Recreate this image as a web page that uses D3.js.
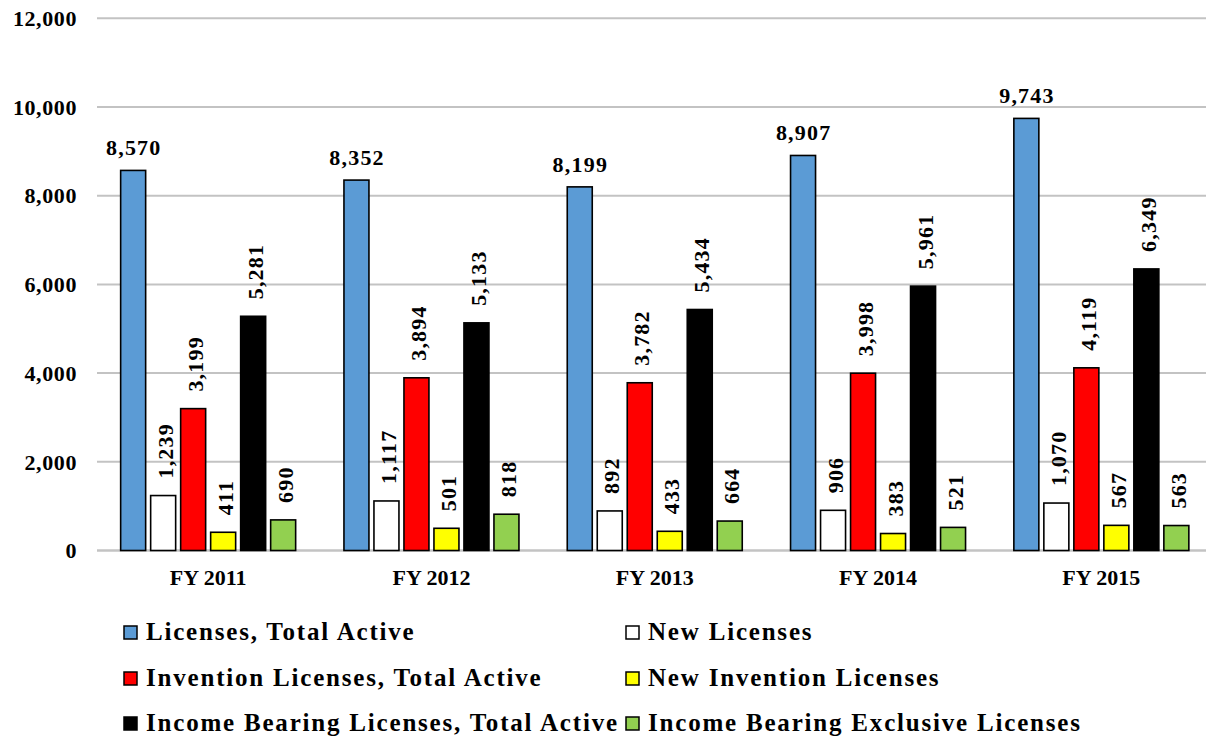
<!DOCTYPE html>
<html>
<head>
<meta charset="utf-8">
<script src="https://cdn.jsdelivr.net/npm/d3@7"></script>
<style>
  html, body { margin: 0; padding: 0; background: #fff; }
  svg { display: block; }
</style>
</head>
<body>
<svg id="chart" width="1206" height="740"></svg>
<script>
const categories = ["FY 2011", "FY 2012", "FY 2013", "FY 2014", "FY 2015"];
const seriesNames = [
  "Licenses, Total Active",
  "New Licenses",
  "Invention Licenses, Total Active",
  "New Invention Licenses",
  "Income Bearing Licenses, Total Active",
  "Income Bearing Exclusive Licenses"
];
const licensesTotalActive = [8570, 8352, 8199, 8907, 9743];
const newLicenses = [1239, 1117, 892, 906, 1070];
const inventionTotalActive = [3199, 3894, 3782, 3998, 4119];
const newInvention = [411, 501, 433, 383, 567];
const incomeBearingTotal = [5281, 5133, 5434, 5961, 6349];
const incomeBearingExclusive = [690, 818, 664, 521, 563];
const yTicks = [0, 2000, 4000, 6000, 8000, 10000, 12000];
const seriesColors = ["#5B9BD5", "#FFFFFF", "#FF0000", "#FFFF00", "#000000", "#92D050"];

const seriesValues = [licensesTotalActive, newLicenses, inventionTotalActive, newInvention, incomeBearingTotal, incomeBearingExclusive];

const FONT = "'Liberation Serif', 'Times New Roman', 'DejaVu Serif', serif";
const svg = d3.select("#chart")
  .attr("font-family", FONT).attr("font-weight", "bold");
const fmt = d3.format(",");

const y = d3.scaleLinear().domain([0, 12000]).range([550.5, 18.3]);
const x0 = d3.scaleBand().domain(categories).range([96.5, 1213]).padding(0);
const groupW = 175;
const x1 = d3.scaleBand().domain(d3.range(seriesNames.length)).range([0, groupW]).paddingInner(1/6).paddingOuter(0);
const groupOffset = (x0.bandwidth() - groupW) / 2;

function T(sel) {
  return sel.attr("font-family", FONT).attr("font-weight", "bold").attr("fill", "#000");
}

// gridlines
svg.append("g").selectAll("line").data(yTicks).join("line")
  .attr("x1", 97).attr("x2", 1213)
  .attr("y1", d => y(d)).attr("y2", d => y(d))
  .attr("stroke", "#C3C3C3").attr("stroke-width", d => d === 0 ? 2.5 : 2);

// y tick labels
T(svg.append("g").selectAll("text").data(yTicks).join("text"))
  .attr("x", 77).attr("y", d => y(d)).attr("dy", "0.35em")
  .attr("text-anchor", "end").attr("font-size", 22)
  .attr("letter-spacing", 0.6)
  .text(d => fmt(d));

// bars
const groups = svg.append("g").selectAll("g").data(categories).join("g")
  .attr("transform", c => `translate(${x0(c) + groupOffset},0)`);

groups.each(function(c, ci) {
  const g = d3.select(this);
  seriesValues.forEach((vals, si) => {
    const v = vals[ci];
    g.append("rect")
      .attr("x", x1(si)).attr("width", x1.bandwidth())
      .attr("y", y(v)).attr("height", y(0) - y(v))
      .attr("fill", seriesColors[si])
      .attr("stroke", "#000").attr("stroke-width", 1.6);
    const cx = x1(si) + x1.bandwidth() / 2;
    if (si === 0) {
      T(g.append("text"))
        .attr("x", cx + 0.6).attr("y", y(v) - 15)
        .attr("text-anchor", "middle").attr("font-size", 22)
        .attr("letter-spacing", 1.2)
        .text(fmt(v));
    } else {
      T(g.append("text"))
        .attr("transform", `translate(${cx + 2},${y(v) - 17}) rotate(-90)`)
        .attr("dy", "0.35em")
        .attr("text-anchor", "start").attr("font-size", 22)
        .attr("letter-spacing", 1.2)
        .text(fmt(v));
    }
  });
});

// category labels
T(svg.append("g").selectAll("text").data(categories).join("text"))
  .attr("x", c => x0(c) + x0.bandwidth() / 2).attr("y", 585)
  .attr("text-anchor", "middle").attr("font-size", 22)
  .text(c => c);

// legend
const legendCols = [124, 626];
const legendRows = [640, 686, 731];
const legend = svg.append("g").selectAll("g").data(seriesNames).join("g")
  .attr("transform", (d, i) => `translate(${legendCols[i % 2]},${legendRows[Math.floor(i / 2)]})`);
legend.append("rect")
  .attr("x", 0).attr("y", -14).attr("width", 13).attr("height", 13)
  .attr("fill", (d, i) => seriesColors[i])
  .attr("stroke", "#000").attr("stroke-width", 1.5);
T(legend.append("text"))
  .attr("x", 22).attr("y", 0).attr("font-size", 25)
  .attr("letter-spacing", 1.8)
  .text(d => d);
</script>
</body>
</html>
